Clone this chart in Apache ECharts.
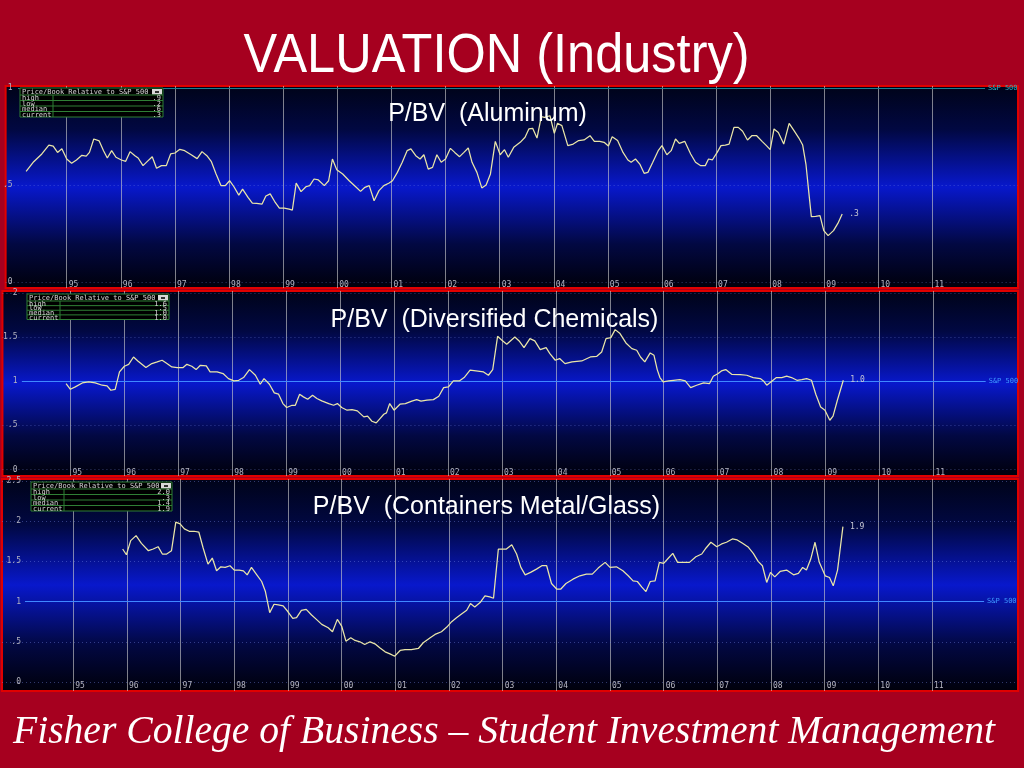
<!DOCTYPE html>
<html><head><meta charset="utf-8">
<script src="https://cdn.jsdelivr.net/npm/echarts@6/dist/echarts.min.js"></script>
<style>html,body{margin:0;padding:0;background:#a6001f;overflow:hidden}#c{width:1024px;height:768px}</style>
</head><body><div id="c"></div>
<script>
// ---------- DATA ----------
const yearTicks = [1995,1996,1997,1998,1999,2000,2001,2002,2003,2004,2005,2006,2007,2008,2009,2010,2011];
const yTicksAlum = [0, 0.5, 1];
const yTicksChem = [0, 0.5, 1, 1.5, 2];
const yTicksCont = [0, 0.5, 1, 1.5, 2, 2.5];
const spLevel = 1;
const statLabels = ['high', 'low', 'median', 'current'];
const alumStats = ['.9', '.2', '.6', '.3'];
const chemStats = ['1.6', '.5', '1.0', '1.0'];
const contStats = ['2.0', '.3', '1.4', '1.9'];
const mainTitle = 'VALUATION (Industry)';
const footerText = 'Fisher College of Business \u2013 Student Investment Management';
const panelTitles = ['P/BV  (Aluminum)', 'P/BV  (Diversified Chemicals)', 'P/BV  (Containers Metal/Glass)'];
const tableHeader = 'Price/Book Relative to S&P 500';

const aluminum = [[1994.25,0.57],[1994.39,0.62],[1994.54,0.66],[1994.67,0.705],[1994.75,0.70],[1994.83,0.668],[1994.91,0.687],[1995.0,0.634],[1995.09,0.612],[1995.18,0.629],[1995.28,0.653],[1995.36,0.649],[1995.42,0.668],[1995.50,0.737],[1995.60,0.727],[1995.68,0.677],[1995.75,0.639],[1995.83,0.677],[1995.91,0.643],[1996.01,0.629],[1996.09,0.622],[1996.17,0.672],[1996.26,0.651],[1996.32,0.639],[1996.41,0.60],[1996.49,0.622],[1996.58,0.646],[1996.66,0.586],[1996.75,0.60],[1996.84,0.60],[1996.92,0.66],[1997.0,0.665],[1997.09,0.684],[1997.18,0.677],[1997.30,0.656],[1997.41,0.636],[1997.50,0.672],[1997.59,0.651],[1997.67,0.622],[1997.76,0.557],[1997.85,0.497],[1997.93,0.497],[1998.01,0.522],[1998.09,0.491],[1998.18,0.448],[1998.25,0.479],[1998.35,0.436],[1998.43,0.407],[1998.51,0.405],[1998.61,0.402],[1998.68,0.443],[1998.76,0.454],[1998.84,0.416],[1998.93,0.381],[1999.02,0.381],[1999.11,0.376],[1999.17,0.371],[1999.24,0.51],[1999.33,0.466],[1999.42,0.491],[1999.49,0.497],[1999.57,0.531],[1999.65,0.526],[1999.76,0.497],[1999.84,0.522],[1999.91,0.634],[1999.99,0.579],[2000.10,0.557],[2000.22,0.522],[2000.34,0.491],[2000.43,0.467],[2000.51,0.488],[2000.59,0.497],[2000.68,0.419],[2000.77,0.471],[2000.86,0.497],[2000.95,0.509],[2001.02,0.522],[2001.11,0.565],[2001.20,0.617],[2001.29,0.677],[2001.36,0.686],[2001.45,0.651],[2001.53,0.634],[2001.60,0.656],[2001.68,0.582],[2001.76,0.591],[2001.84,0.656],[2001.92,0.617],[2002.00,0.634],[2002.09,0.689],[2002.17,0.668],[2002.26,0.646],[2002.34,0.668],[2002.42,0.691],[2002.49,0.617],[2002.58,0.565],[2002.67,0.485],[2002.75,0.50],[2002.83,0.557],[2002.92,0.725],[2003.01,0.656],[2003.09,0.682],[2003.16,0.643],[2003.26,0.694],[2003.38,0.72],[2003.47,0.746],[2003.54,0.789],[2003.61,0.792],[2003.69,0.742],[2003.77,0.852],[2003.83,0.849],[2003.93,0.857],[2004.01,0.766],[2004.07,0.818],[2004.15,0.806],[2004.26,0.703],[2004.36,0.711],[2004.46,0.729],[2004.56,0.732],[2004.67,0.754],[2004.75,0.725],[2004.85,0.725],[2004.93,0.72],[2005.01,0.701],[2005.08,0.749],[2005.18,0.729],[2005.28,0.668],[2005.37,0.629],[2005.43,0.617],[2005.51,0.634],[2005.59,0.608],[2005.67,0.56],[2005.74,0.565],[2005.83,0.617],[2005.93,0.677],[2006.0,0.703],[2006.09,0.656],[2006.17,0.677],[2006.25,0.737],[2006.32,0.715],[2006.42,0.725],[2006.53,0.66],[2006.62,0.617],[2006.71,0.60],[2006.80,0.60],[2006.86,0.634],[2006.93,0.629],[2007.02,0.668],[2007.09,0.703],[2007.17,0.706],[2007.24,0.711],[2007.33,0.797],[2007.41,0.797],[2007.49,0.777],[2007.58,0.732],[2007.66,0.754],[2007.75,0.754],[2007.85,0.725],[2007.93,0.703],[2008.0,0.682],[2008.07,0.789],[2008.15,0.771],[2008.25,0.711],[2008.35,0.818],[2008.44,0.78],[2008.53,0.742],[2008.60,0.706],[2008.66,0.608],[2008.71,0.471],[2008.76,0.337],[2008.84,0.338],[2008.92,0.342],[2008.99,0.265],[2009.07,0.239],[2009.17,0.265],[2009.25,0.302],[2009.33,0.351]];

const chemicals = [[1994.92,0.974],[1995.0,0.909],[1995.09,0.936],[1995.22,0.981],[1995.34,0.992],[1995.46,0.981],[1995.59,0.955],[1995.68,0.947],[1995.75,0.898],[1995.83,0.909],[1995.91,1.106],[1996.0,1.17],[1996.08,1.192],[1996.17,1.275],[1996.25,1.23],[1996.40,1.155],[1996.51,1.20],[1996.61,1.219],[1996.70,1.238],[1996.79,1.20],[1996.88,1.162],[1996.98,1.155],[1997.09,1.155],[1997.16,1.192],[1997.25,1.17],[1997.33,1.132],[1997.41,1.181],[1997.52,1.174],[1997.59,1.106],[1997.72,1.106],[1997.83,1.087],[1997.93,1.03],[1998.03,1.004],[1998.12,1.011],[1998.21,1.042],[1998.32,1.132],[1998.43,1.068],[1998.52,0.966],[1998.59,1.03],[1998.69,0.966],[1998.78,0.868],[1998.86,0.853],[1998.94,0.747],[1999.01,0.702],[1999.11,0.728],[1999.17,0.728],[1999.25,0.853],[1999.32,0.823],[1999.40,0.796],[1999.49,0.842],[1999.57,0.804],[1999.66,0.777],[1999.79,0.747],[1999.88,0.728],[1999.95,0.747],[2000.03,0.702],[2000.13,0.672],[2000.22,0.679],[2000.32,0.664],[2000.44,0.596],[2000.51,0.604],[2000.59,0.547],[2000.67,0.528],[2000.74,0.577],[2000.81,0.626],[2000.86,0.642],[2000.92,0.747],[2001.0,0.672],[2001.11,0.74],[2001.21,0.747],[2001.33,0.774],[2001.42,0.792],[2001.50,0.774],[2001.61,0.785],[2001.73,0.792],[2001.83,0.83],[2001.92,0.928],[2002.01,0.936],[2002.10,1.004],[2002.21,1.004],[2002.30,1.042],[2002.41,1.125],[2002.52,1.117],[2002.66,1.106],[2002.75,1.068],[2002.83,1.132],[2002.92,1.509],[2003.0,1.464],[2003.09,1.419],[2003.24,1.502],[2003.32,1.457],[2003.41,1.381],[2003.52,1.483],[2003.61,1.457],[2003.71,1.358],[2003.82,1.381],[2003.89,1.313],[2003.99,1.238],[2004.07,1.257],[2004.17,1.20],[2004.30,1.219],[2004.48,1.23],[2004.64,1.275],[2004.76,1.283],[2004.85,1.332],[2004.93,1.483],[2005.02,1.494],[2005.10,1.585],[2005.19,1.54],[2005.30,1.434],[2005.41,1.37],[2005.50,1.351],[2005.57,1.275],[2005.65,1.219],[2005.75,1.321],[2005.82,1.294],[2005.88,1.132],[2005.93,1.042],[2005.99,0.992],[2006.09,1.004],[2006.18,1.011],[2006.30,1.019],[2006.40,1.004],[2006.50,0.928],[2006.61,0.955],[2006.74,0.981],[2006.85,0.974],[2006.92,1.057],[2007.01,1.087],[2007.07,1.117],[2007.15,1.132],[2007.26,1.079],[2007.42,1.075],[2007.54,1.068],[2007.66,1.042],[2007.79,1.03],[2007.85,1.004],[2007.91,0.955],[2008.01,1.004],[2008.09,1.042],[2008.19,1.042],[2008.28,1.057],[2008.37,1.042],[2008.47,1.011],[2008.56,1.019],[2008.65,1.03],[2008.74,1.011],[2008.82,0.853],[2008.91,0.709],[2008.99,0.672],[2009.08,0.558],[2009.14,0.604],[2009.22,0.785],[2009.33,1.011]];

const containers = [[1995.92,1.654],[1995.99,1.583],[1996.07,1.758],[1996.17,1.821],[1996.27,1.725],[1996.40,1.633],[1996.49,1.654],[1996.58,1.683],[1996.66,1.592],[1996.74,1.592],[1996.83,1.633],[1996.91,1.988],[1996.99,1.967],[1997.07,1.904],[1997.16,1.875],[1997.25,1.875],[1997.34,1.863],[1997.42,1.667],[1997.51,1.467],[1997.59,1.542],[1997.67,1.383],[1997.75,1.433],[1997.83,1.425],[1997.92,1.446],[1998.0,1.392],[1998.09,1.392],[1998.17,1.383],[1998.24,1.333],[1998.32,1.425],[1998.42,1.333],[1998.51,1.25],[1998.58,1.125],[1998.66,0.863],[1998.74,0.967],[1998.82,0.958],[1998.91,0.946],[1998.99,0.883],[1999.09,0.792],[1999.16,0.80],[1999.25,0.892],[1999.34,0.904],[1999.44,0.833],[1999.53,0.779],[1999.63,0.717],[1999.75,0.675],[1999.83,0.625],[1999.92,0.779],[2000.0,0.696],[2000.08,0.508],[2000.17,0.55],[2000.25,0.517],[2000.34,0.50],[2000.43,0.467],[2000.53,0.50],[2000.62,0.475],[2000.71,0.425],[2000.81,0.375],[2000.90,0.35],[2000.99,0.321],[2001.09,0.392],[2001.18,0.404],[2001.30,0.404],[2001.43,0.417],[2001.52,0.488],[2001.65,0.55],[2001.74,0.592],[2001.86,0.625],[2001.96,0.683],[2002.05,0.75],[2002.14,0.80],[2002.24,0.85],[2002.33,0.892],[2002.40,0.975],[2002.48,0.933],[2002.58,0.988],[2002.67,1.071],[2002.76,1.058],[2002.83,1.042],[2002.92,1.654],[2003.07,1.654],[2003.17,1.708],[2003.26,1.592],[2003.34,1.425],[2003.42,1.333],[2003.52,1.363],[2003.63,1.404],[2003.73,1.446],[2003.82,1.446],[2003.91,1.225],[2004.01,1.154],[2004.08,1.154],[2004.18,1.225],[2004.31,1.279],[2004.44,1.321],[2004.56,1.342],[2004.67,1.342],[2004.78,1.417],[2004.91,1.488],[2005.0,1.425],[2005.12,1.433],[2005.24,1.383],[2005.34,1.321],[2005.43,1.258],[2005.51,1.25],[2005.59,1.183],[2005.67,1.125],[2005.75,1.25],[2005.84,1.258],[2005.92,1.488],[2006.0,1.475],[2006.09,1.542],[2006.17,1.60],[2006.26,1.488],[2006.37,1.488],[2006.48,1.488],[2006.60,1.558],[2006.71,1.592],[2006.79,1.667],[2006.88,1.738],[2006.99,1.683],[2007.08,1.717],[2007.17,1.738],[2007.28,1.779],[2007.37,1.767],[2007.47,1.725],[2007.58,1.675],[2007.67,1.60],[2007.76,1.50],[2007.84,1.446],[2007.92,1.238],[2007.99,1.363],[2008.07,1.308],[2008.17,1.375],[2008.29,1.392],[2008.42,1.333],[2008.51,1.35],[2008.59,1.425],[2008.66,1.392],[2008.74,1.529],[2008.82,1.738],[2008.90,1.488],[2009.01,1.321],[2009.09,1.30],[2009.16,1.196],[2009.24,1.392],[2009.34,1.933]];

// ---------- LAYOUT / STYLE ----------
const MONO = '"DejaVu Sans Mono", monospace';
const SANS = '"Liberation Sans", Arial, sans-serif';
const SERIF = '"Liberation Serif", "Times New Roman", serif';
const SP_START = 1994.1, SP_END = 2011.97;

const panels = [
  { data: aluminum, stats: alumStats, yTicks: yTicksAlum, top: 86, height: 202,
    xMin: 1993.871, xMax: 2012.579, yMin: -0.0309, yMax: 1.0103,
    yLabelMargin: 7, xLabelMargin: 3, spColor: '#1f7f8f', spLabel: '#2fb0c0',
    table: { x: 20, y: 88, w: 143, h: 29 }, titleX: 487.5, titleY: 114 },
  { data: chemicals, stats: chemStats, yTicks: yTicksChem, top: 291, height: 185,
    xMin: 1993.740, xMax: 2012.569, yMin: -0.0737, yMax: 2.0227,
    yLabelMargin: 15, xLabelMargin: 3.3, spColor: '#3f88ff', spLabel: '#3f98ff',
    table: { x: 27, y: 294, w: 142, h: 25.5 }, titleX: 494.5, titleY: 320 },
  { data: containers, stats: contStats, yTicks: yTicksCont, top: 479, height: 212,
    xMin: 1993.672, xMax: 2012.602, yMin: -0.1119, yMax: 2.5249,
    yLabelMargin: 19, xLabelMargin: 4.7, spColor: '#3f88ff', spLabel: '#3f98ff',
    table: { x: 31, y: 482, w: 141, h: 29 }, titleX: 486.5, titleY: 507 }
];

const fmtY = v => v === 0 ? '0' : (v < 1 ? '.' + String(v).split('.')[1] : String(v));
const fmtYear = v => String(Math.round(v) % 100).padStart(2, '0');

function bgGradient() {
  return new echarts.graphic.LinearGradient(0, 0, 0, 1, [
    { offset: 0, color: '#000318' },
    { offset: 0.22, color: '#010842' },
    { offset: 0.5, color: '#0818cc' },
    { offset: 0.78, color: '#020842' },
    { offset: 1, color: '#00000a' }
  ]);
}

const grids = [], xAxes = [], yAxes = [], series = [], graphics = [];

panels.forEach((p, i) => {
  grids.push({ left: 2, width: 1016, top: p.top, height: p.height, show: true,
    backgroundColor: bgGradient(), borderColor: '#e00000', borderWidth: 2, containLabel: false });
  xAxes.push({ gridIndex: i, type: 'value', min: p.xMin, max: p.xMax,
    axisLine: { show: false }, axisTick: { show: false }, splitLine: { show: false },
    axisLabel: { inside: true, customValues: yearTicks, formatter: fmtYear, color: '#b4b4c0',
      fontSize: 8, fontFamily: MONO, align: 'left', verticalAlign: 'middle',
      margin: p.xLabelMargin, padding: [0, 0, 0, 2] } });
  yAxes.push({ gridIndex: i, type: 'value', min: p.yMin, max: p.yMax,
    axisLine: { show: false }, axisTick: { show: false }, splitLine: { show: false },
    axisLabel: { inside: true, customValues: p.yTicks, formatter: fmtY, color: '#b4b4c0',
      fontSize: 8, fontFamily: MONO, align: 'right', verticalAlign: 'middle', margin: p.yLabelMargin } });

  // reference / grid lines
  const mlData = [];
  yearTicks.forEach(y => mlData.push({ xAxis: y,
    lineStyle: { color: 'rgba(205,205,205,0.62)', width: 1, type: 'solid' } }));
  p.yTicks.filter(v => v !== spLevel).forEach(v => mlData.push({ yAxis: v,
    lineStyle: { color: 'rgba(120,140,235,0.4)', width: 1, type: [1, 3] } }));
  mlData.push([
    { coord: [SP_START, spLevel], lineStyle: { color: p.spColor, width: 1, type: 'solid' },
      label: { show: true, position: 'end', formatter: 'S&P 500', color: p.spLabel,
        fontSize: 7, fontFamily: MONO, distance: 3 } },
    { coord: [SP_END, spLevel] }
  ]);
  series.push({ type: 'line', xAxisIndex: i, yAxisIndex: i, data: [], z: 1, silent: true,
    markLine: { silent: true, symbol: ['none', 'none'], animation: false,
      label: { show: false }, data: mlData } });

  series.push({ type: 'line', xAxisIndex: i, yAxisIndex: i, data: p.data, z: 5,
    symbol: 'none', silent: true, animation: false,
    lineStyle: { color: '#eae6a8', width: 1.25 },
    endLabel: { show: true, formatter: p.stats[3], color: '#c8c8d4', fontSize: 8,
      fontFamily: MONO, distance: 7 } });

  // stats table
  const t = p.table, hh = 7, rh = (t.h - hh) / 4, green = '#2f7f35';
  graphics.push({ type: 'rect', z: 20, shape: { x: t.x, y: t.y, width: t.w, height: t.h },
    style: { fill: '#000000', stroke: green, lineWidth: 1 } });
  graphics.push({ type: 'text', z: 21, x: t.x + 2, y: t.y + hh / 2 + 0.5,
    style: { text: tableHeader, fill: '#d4d4d4', font: '7px ' + MONO, verticalAlign: 'middle' } });
  graphics.push({ type: 'rect', z: 21, shape: { x: t.x + t.w - 11, y: t.y + 1, width: 10, height: hh - 1.5 },
    style: { fill: '#d8d8d8' } });
  graphics.push({ type: 'rect', z: 22, shape: { x: t.x + t.w - 8, y: t.y + 3, width: 4, height: 2 },
    style: { fill: '#303030' } });
  graphics.push({ type: 'line', z: 21, shape: { x1: t.x + 33, y1: t.y + hh, x2: t.x + 33, y2: t.y + t.h },
    style: { stroke: green, lineWidth: 1 } });
  statLabels.forEach((lab, r) => {
    const y0 = t.y + hh + r * rh;
    graphics.push({ type: 'line', z: 21, shape: { x1: t.x, y1: y0, x2: t.x + t.w, y2: y0 },
      style: { stroke: green, lineWidth: 1 } });
    graphics.push({ type: 'text', z: 22, x: t.x + 2, y: y0 + rh / 2 + 0.5,
      style: { text: lab, fill: '#d4d4d4', font: '7px ' + MONO, verticalAlign: 'middle' } });
    graphics.push({ type: 'text', z: 22, x: t.x + t.w - 2, y: y0 + rh / 2 + 0.5,
      style: { text: p.stats[r], fill: '#d4d4d4', font: '7px ' + MONO, align: 'right', verticalAlign: 'middle' } });
  });

  graphics.push({ type: 'text', z: 30, x: p.titleX, y: p.titleY,
    style: { text: panelTitles[i], fill: '#ffffff', font: '25px ' + SANS, align: 'center', verticalAlign: 'middle' } });
});

graphics.push({ type: 'text', z: 30, x: 496.5, y: 57, scaleX: 1.01, scaleY: 1.1,
  style: { text: mainTitle, fill: '#ffffff', font: '50px ' + SANS, align: 'center', verticalAlign: 'middle' } });
graphics.push({ type: 'text', z: 30, x: 504, y: 732, scaleX: 0.99,
  style: { text: footerText, fill: '#ffffff', font: 'italic 40px ' + SERIF, align: 'center', verticalAlign: 'middle' } });

const chart = echarts.init(document.getElementById('c'), null, { renderer: 'canvas', width: 1024, height: 768 });
chart.setOption({
  backgroundColor: '#a6001f',
  animation: false,
  grid: grids, xAxis: xAxes, yAxis: yAxes, series: series, graphic: graphics
});
</script></body></html>
